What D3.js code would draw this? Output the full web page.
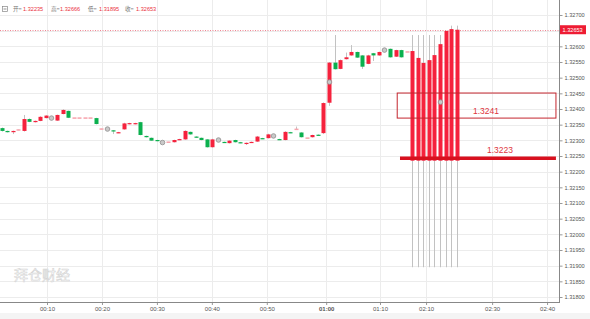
<!DOCTYPE html>
<html>
<head>
<meta charset="utf-8">
<script src="https://cdn.jsdelivr.net/npm/d3@7"></script>
<style>
  body { margin: 0; background: #fff; }
  svg { display: block; font-family: "Liberation Sans", Arial, sans-serif; }
</style>
</head>
<body>
<svg width="590" height="319"></svg>
<script>
// one-minute candles, index = slot on the time axis
const opens = [1.32339,1.32330,1.32326,1.32333,1.32330,1.32368,1.32358,1.32362,1.32371,1.32371,
  1.32363,1.32384,1.32394,1.32371,1.32371,1.32371,1.32371,1.32371,1.32336,1.32336,
  1.32332,1.32324,1.32335,1.32352,1.32352,1.32358,1.32314,1.32308,1.32301,1.32293,
  1.32294,1.32294,1.32302,1.32303,1.32327,1.32312,1.32308,1.32303,1.32278,1.32301,
  1.32295,1.32291,1.32301,1.32294,1.32290,1.32293,1.32296,1.32307,1.32307,1.32314,
  1.32304,1.32301,1.32326,1.32335,1.32325,1.32307,1.32310,1.32318,1.32323,1.32420,
  1.32548,1.32528,1.32559,1.32571,1.32582,1.32571,1.32544,1.32578,1.32571,1.32588,
  1.32592,1.32567,1.32588,1.32582,
  1.32235,1.32235,1.32235,1.32235,1.32235,1.32235,1.32235,1.32235,1.32235];
const closes = [1.32330,1.32326,1.32330,1.32333,1.32368,1.32359,1.32362,1.32375,1.32379,1.32371,
  1.32381,1.32397,1.32372,1.32371,1.32371,1.32371,1.32371,1.32352,1.32336,1.32336,
  1.32329,1.32326,1.32354,1.32355,1.32355,1.32317,1.32310,1.32299,1.32298,1.32293,
  1.32294,1.32301,1.32304,1.32330,1.32319,1.32309,1.32301,1.32278,1.32303,1.32301,
  1.32293,1.32299,1.32294,1.32292,1.32292,1.32295,1.32312,1.32305,1.32319,1.32314,
  1.32302,1.32327,1.32324,1.32335,1.32310,1.32307,1.32317,1.32316,1.32419,1.32548,
  1.32527,1.32556,1.32565,1.32582,1.32564,1.32535,1.32571,1.32571,1.32582,1.32588,
  1.32565,1.32588,1.32565,1.32582,
  1.32585,1.32563,1.32547,1.32556,1.32572,1.32607,1.32649,1.32655,1.32653];
const highs = [1.32341,1.32331,1.32331,1.32334,1.32381,1.32370,1.32363,1.32377,1.32380,1.32372,
  1.32382,1.32399,1.32395,1.32371,1.32371,1.32371,1.32371,1.32372,1.32337,1.32337,
  1.32333,1.32327,1.32356,1.32356,1.32356,1.32359,1.32315,1.32309,1.32302,1.32293,
  1.32295,1.32302,1.32305,1.32332,1.32328,1.32313,1.32309,1.32304,1.32305,1.32301,
  1.32296,1.32300,1.32302,1.32295,1.32293,1.32296,1.32314,1.32308,1.32321,1.32314,
  1.32305,1.32329,1.32327,1.32344,1.32326,1.32307,1.32318,1.32319,1.32421,1.32550,
  1.32636,1.32558,1.32580,1.32604,1.32583,1.32572,1.32573,1.32579,1.32583,1.32588,
  1.32593,1.32589,1.32589,1.32582,
  1.32636,1.32636,1.32636,1.32636,1.32636,1.32636,1.32650,1.32666,1.32666];
const lows = [1.32328,1.32325,1.32320,1.32332,1.32328,1.32358,1.32357,1.32361,1.32370,1.32371,
  1.32362,1.32383,1.32371,1.32371,1.32371,1.32371,1.32371,1.32351,1.32335,1.32336,
  1.32320,1.32323,1.32334,1.32351,1.32351,1.32316,1.32309,1.32298,1.32297,1.32293,
  1.32294,1.32293,1.32301,1.32302,1.32318,1.32308,1.32300,1.32277,1.32277,1.32301,
  1.32292,1.32290,1.32293,1.32291,1.32285,1.32292,1.32295,1.32304,1.32306,1.32314,
  1.32301,1.32300,1.32323,1.32335,1.32309,1.32307,1.32309,1.32315,1.32320,1.32410,
  1.32526,1.32527,1.32558,1.32570,1.32563,1.32528,1.32543,1.32553,1.32570,1.32588,
  1.32564,1.32566,1.32564,1.32582,
  1.31895,1.31895,1.31895,1.31895,1.31895,1.31895,1.31895,1.31895,1.31895];

// gray event markers
const markerIdx = [9, 19, 29, 39, 49, 59, 69, 79];
const markerVal = [1.32371, 1.32336, 1.32293, 1.32301, 1.32314, 1.32486, 1.32588, 1.32422];

// axis ticks
const yTicks = d3.range(1.318, 1.32701, 0.0005);
const xTickIdx = [8.2, 18.1, 28, 37.9, 47.8, 58.5, 68.2, 76.5, 88.4, 98.3];
const xTickLabels = ["00:10","00:20","00:30","00:40","00:50","01:00","01:10","02:10","02:30","02:40"];

// header OHLC of last candle
const ohlcNames = ["开=", "高=", "低=", "收="];
const ohlcValues = ["1.32235", "1.32666", "1.31895", "1.32653"];

// drawings
const boxLevels = [1.32451, 1.32371];
const boxSpan = [71.3, 99.9];
const boxLabel = "1.3241";
const lineLevel = 1.32243;
const lineSpan = [71.8, 99.9];
const lineLabel = "1.3223";
const lastPrice = 1.32653;

const RED = "#f5223d", GREEN = "#0bb04e", PINK = "#f7a3ac";

const svg = d3.select("svg");
const plotR = 559.5, plotB = 302;

const x = d3.scaleLinear().domain([0, 100]).range([1.5, 556.5]);
const y = d3.scaleLinear().domain([1.318, 1.327]).range([297, 15]);

svg.append("rect").attr("x", 0).attr("y", 313).attr("width", 590).attr("height", 6).attr("fill", "#f4f4f4");

// grid
svg.append("g").selectAll("line").data(yTicks).join("line")
  .attr("x1", 0).attr("x2", plotR).attr("y1", d => Math.round(y(d)) + 0.5).attr("y2", d => Math.round(y(d)) + 0.5)
  .attr("stroke", "#ececec");
svg.append("g").selectAll("line").data(xTickIdx).join("line")
  .attr("x1", d => Math.round(x(d)) + 0.5).attr("x2", d => Math.round(x(d)) + 0.5).attr("y1", 0).attr("y2", plotB)
  .attr("stroke", "#ececec");

// watermark
svg.append("text").attr("x", 14).attr("y", 280).text("拜仓财经")
  .attr("font-size", 14).attr("font-family", "Noto Sans CJK SC")
  .attr("fill", "#fff").attr("stroke", "#d4d4d4").attr("stroke-width", 0.6);

// current price line
svg.append("line").attr("x1", 0).attr("x2", plotR)
  .attr("y1", Math.round(y(lastPrice)) + 0.5).attr("y2", Math.round(y(lastPrice)) + 0.5)
  .attr("stroke", "#f08592").attr("stroke-dasharray", "1,1.5");

const candles = opens.map((o, i) => ({ i, o, c: closes[i], h: highs[i], l: lows[i] }));
const bw = 4;

// wicks
svg.append("g").selectAll("line").data(candles.filter(d => d.h > Math.max(d.o, d.c) || d.l < Math.min(d.o, d.c))).join("line")
  .attr("x1", d => Math.round(x(d.i)) + 0.5).attr("x2", d => Math.round(x(d.i)) + 0.5)
  .attr("y1", d => y(d.h)).attr("y2", d => y(d.l))
  .attr("stroke", "#c2c2c2").attr("stroke-width", 1);

// bodies
svg.append("g").selectAll("rect").data(candles).join("rect")
  .attr("x", d => Math.round(x(d.i)) + 0.5 - bw / 2)
  .attr("y", d => d.o === d.c ? y(d.o) - 0.75 : y(Math.max(d.o, d.c)))
  .attr("width", bw)
  .attr("height", d => d.o === d.c ? 1.5 : Math.max(1.2, Math.abs(y(d.o) - y(d.c))))
  .attr("fill", d => d.o === d.c ? PINK : (d.c > d.o ? RED : GREEN));

// markers
svg.append("g").selectAll("circle").data(markerIdx).join("circle")
  .attr("cx", d => Math.round(x(d)) + 0.5).attr("cy", (d, i) => y(markerVal[i])).attr("r", 2.3)
  .attr("fill", "#c9c9c9").attr("stroke", "#8f8f8f").attr("stroke-width", 0.8);

// box drawing
svg.append("rect")
  .attr("x", x(boxSpan[0])).attr("y", y(boxLevels[0]))
  .attr("width", x(boxSpan[1]) - x(boxSpan[0])).attr("height", y(boxLevels[1]) - y(boxLevels[0]))
  .attr("fill", "none").attr("stroke", "#c4262e").attr("stroke-width", 1);
svg.append("text").attr("x", 473).attr("y", 114).text(boxLabel)
  .attr("font-size", 8.5).attr("fill", "#e0353d");

// horizontal line drawing
svg.append("line").attr("x1", x(lineSpan[0])).attr("x2", x(lineSpan[1]))
  .attr("y1", y(lineLevel)).attr("y2", y(lineLevel))
  .attr("stroke", "#d8101e").attr("stroke-width", 3.5);
svg.append("text").attr("x", 487).attr("y", 153).text(lineLabel)
  .attr("font-size", 8.5).attr("fill", "#e0353d");

// right axis (the label under the price tag is hidden)
const yLabelTicks = yTicks.filter(d => Math.abs(y(d) - y(lastPrice)) > 5);
const yAxis = svg.append("g").attr("transform", `translate(${plotR},0)`)
  .call(d3.axisRight(y).tickValues(yLabelTicks).tickFormat(d3.format(".5f")).tickSize(3).tickPadding(2));
yAxis.select(".domain").remove();
yAxis.selectAll("line").attr("stroke", "#999");
yAxis.selectAll("text").attr("font-size", 5.6).attr("fill", "#555").attr("font-family", "Liberation Sans");
svg.append("line").attr("x1", plotR).attr("x2", plotR).attr("y1", 0).attr("y2", plotB).attr("stroke", "#888");

// price tag
const pg = svg.append("g").attr("transform", `translate(${plotR + 0.5},${y(lastPrice)})`);
pg.append("rect").attr("x", 0).attr("y", -4.5).attr("width", 26).attr("height", 9).attr("fill", "#ee1c33");
pg.append("text").attr("x", 2.5).attr("y", 2).text(d3.format(".5f")(lastPrice))
  .attr("font-size", 5.6).attr("fill", "#fff");

// bottom axis
const xAxis = svg.append("g").attr("transform", `translate(0,${plotB})`)
  .call(d3.axisBottom(x).tickValues(xTickIdx).tickFormat((d, i) => xTickLabels[i]).tickSize(3).tickPadding(2));
xAxis.select(".domain").remove();
xAxis.selectAll("line").attr("stroke", "#999");
xAxis.selectAll("text").attr("font-size", 6).attr("fill", "#555").attr("font-family", "Liberation Sans")
  .attr("font-weight", (d, i) => xTickLabels[i] === "01:00" ? "bold" : null);
svg.append("line").attr("x1", 0).attr("x2", plotR + 0.5).attr("y1", plotB + 0.5).attr("y2", plotB + 0.5).attr("stroke", "#888");

// header
const hd = svg.append("g");
hd.append("rect").attr("x", 2.5).attr("y", 6.5).attr("width", 5).attr("height", 5)
  .attr("fill", "#fff").attr("stroke", "#888").attr("stroke-width", 0.7);
hd.append("line").attr("x1", 3.5).attr("x2", 6.5).attr("y1", 9).attr("y2", 9).attr("stroke", "#666").attr("stroke-width", 0.7);
const nameX = [13, 51, 88, 125], valX = [23, 60, 99, 136];
ohlcNames.forEach((n, i) => {
  hd.append("text").attr("x", nameX[i]).attr("y", 11).text(n)
    .attr("font-size", 5.6).attr("fill", "#777").attr("font-family", "Noto Sans CJK SC");
  hd.append("text").attr("x", valX[i]).attr("y", 11).text(ohlcValues[i])
    .attr("font-size", 5.6).attr("fill", "#ea3240");
});
</script>
</body>
</html>
